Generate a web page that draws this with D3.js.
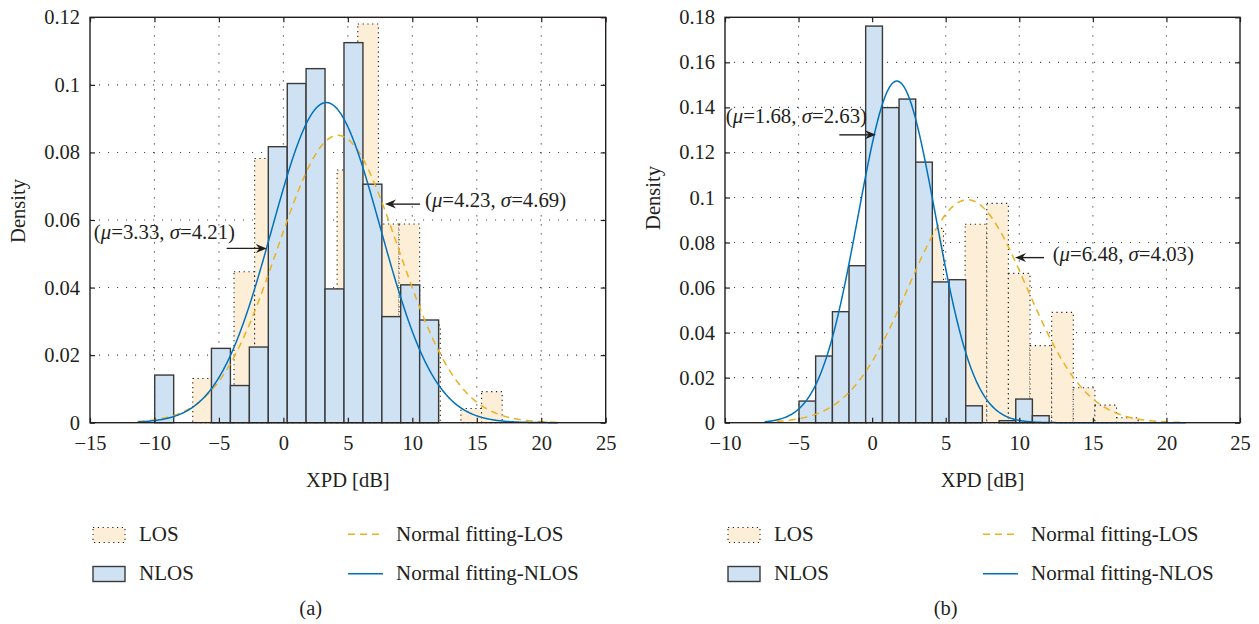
<!DOCTYPE html>
<html>
<head>
<meta charset="utf-8">
<script src="https://cdn.jsdelivr.net/npm/d3@7"></script>
<style>
  html, body { margin: 0; padding: 0; background: #ffffff; }
  svg text { font-family: "Liberation Serif", "Times New Roman", serif; fill: #231f20; }
</style>
</head>
<body>
<svg id="fig" width="1259" height="624"></svg>
<script>
// ---------- Panel (a) ----------
const xTicksA = [-15, -10, -5, 0, 5, 10, 15, 20, 25];
const yTicksA = [0, 0.02, 0.04, 0.06, 0.08, 0.1, 0.12];
const losEdgesA = [-7.03, -5.43, -3.83, -2.23, -0.63, 0.97, 2.57, 4.17, 5.77, 7.37, 8.97, 10.57, 12.17, 13.77, 15.37, 16.97];
const losDensityA = [0.0131, 0.008, 0.0447, 0.0782, 0.040, 0.053, 0.035, 0.0748, 0.118, 0.0588, 0.0588, 0.0289, 0, 0.0042, 0.0092];
const nlosEdgesA = [-9.98, -8.51, -7.04, -5.58, -4.11, -2.64, -1.17, 0.30, 1.76, 3.23, 4.70, 6.17, 7.64, 9.10, 10.57, 12.04];
const nlosDensityA = [0.0141, 0, 0, 0.0220, 0.0110, 0.0224, 0.0817, 0.1004, 0.1048, 0.0396, 0.1125, 0.0706, 0.0314, 0.0408, 0.0304];
const fitLosA = { mu: 4.23, sigma: 4.69 };
const fitNlosA = { mu: 3.33, sigma: 4.21 };
const fitSpanA = [-11.3, 21.3];

// ---------- Panel (b) ----------
const xTicksB = [-10, -5, 0, 5, 10, 15, 20, 25];
const yTicksB = [0, 0.02, 0.04, 0.06, 0.08, 0.1, 0.12, 0.14, 0.16, 0.18];
const losEdgesB = [-3.97, -2.50, -1.03, 0.44, 1.91, 3.38, 4.85, 6.32, 7.79, 9.26, 10.73, 12.20, 13.67, 15.14, 16.61, 18.08];
const losDensityB = [0.008, 0.015, 0.030, 0.050, 0.070, 0.0863, 0.050, 0.0881, 0.0974, 0.0663, 0.0342, 0.049, 0.0155, 0.0078, 0.0022];
const nlosEdgesB = [-4.97, -3.84, -2.70, -1.57, -0.44, 0.70, 1.83, 2.96, 4.09, 5.23, 6.36, 7.49, 8.63, 9.76, 10.89, 12.03];
const nlosDensityB = [0.0096, 0.0296, 0.0493, 0.0697, 0.1761, 0.1399, 0.1437, 0.1157, 0.0625, 0.0635, 0.0075, 0, 0.0009, 0.0105, 0.0031];
const fitLosB = { mu: 6.48, sigma: 4.03 };
const fitNlosB = { mu: 1.68, sigma: 2.63 };
const fitSpanB = [-7.3, 21.3];

// Callouts: arrow tip (data), arrow tail x (data), text position (data)
const notesA = [
  { fit: fitNlosA, tip: [-1.29, 0.0516], tailX: -4.40, at: [-3.75, 0.0544], anchor: "end" },
  { fit: fitLosA,  tip: [7.88, 0.0647],  tailX: 10.6,  at: [10.98, 0.0639], anchor: "start" }
];
const notesB = [
  { fit: fitNlosB, tip: [0.262, 0.1278], tailX: -2.23, at: [-9.95, 0.1331], anchor: "start" },
  { fit: fitLosB,  tip: [9.71, 0.0733],  tailX: 11.68, at: [12.27, 0.0718], anchor: "start" }
];

const legendNames = ["LOS", "NLOS", "Normal fitting-LOS", "Normal fitting-NLOS"];

const COLORS = {
  ink: "#231f20",
  losFill: "#fdeed8",
  nlosFill: "#cfe2f3",
  barEdge: "#3a3a3a",
  losFit: "#edb120",
  nlosFit: "#0072bd",
  grid: "#4a4a4a"
};

const svg = d3.select("#fig");
const TOP = 17.3, BOTTOM = 422.7;

function gauss(x, f) {
  const z = (x - f.mu) / f.sigma;
  return Math.exp(-0.5 * z * z) / (f.sigma * Math.sqrt(2 * Math.PI));
}

function panel(cfg) {
  const g = svg.append("g");
  const x = d3.scaleLinear().domain(cfg.xDomain).range([cfg.left, cfg.right]);
  const y = d3.scaleLinear().domain(cfg.yDomain).range([BOTTOM, TOP]);

  // grid
  const grid = g.append("g").attr("stroke", COLORS.grid).attr("stroke-width", 1.1)
    .attr("stroke-dasharray", "1.1,7.9");
  grid.selectAll("line.v").data(cfg.xTicks.slice(1, -1)).join("line")
    .attr("x1", d => x(d)).attr("x2", d => x(d)).attr("y1", TOP).attr("y2", BOTTOM);
  grid.selectAll("line.h").data(cfg.yTicks.slice(1, -1)).join("line")
    .attr("x1", cfg.left).attr("x2", cfg.right).attr("y1", d => y(d)).attr("y2", d => y(d));

  // histograms
  const bins = (edges, vals) => vals.map((v, i) => ({ x0: edges[i], x1: edges[i + 1], v }));
  g.append("g").selectAll("rect").data(bins(cfg.losEdges, cfg.losDensity)).join("rect")
    .attr("x", d => x(d.x0)).attr("width", d => x(d.x1) - x(d.x0))
    .attr("y", d => y(d.v)).attr("height", d => y(0) - y(d.v))
    .attr("fill", COLORS.losFill).attr("stroke", COLORS.ink).attr("stroke-width", 1.1)
    .attr("stroke-dasharray", "1.2,3.6");
  g.append("g").selectAll("rect").data(bins(cfg.nlosEdges, cfg.nlosDensity)).join("rect")
    .attr("x", d => x(d.x0)).attr("width", d => x(d.x1) - x(d.x0))
    .attr("y", d => y(d.v)).attr("height", d => y(0) - y(d.v))
    .attr("fill", COLORS.nlosFill).attr("stroke", COLORS.barEdge).attr("stroke-width", 1.4);

  // fitted normal curves
  const xs = d3.range(cfg.fitSpan[0], cfg.fitSpan[1] + 1e-9, 0.05);
  const line = f => d3.line().x(d => x(d)).y(d => y(gauss(d, f)))(xs);
  g.append("path").attr("d", line(cfg.fitLos)).attr("fill", "none")
    .attr("stroke", COLORS.losFit).attr("stroke-width", 1.5).attr("stroke-dasharray", "7,5");
  g.append("path").attr("d", line(cfg.fitNlos)).attr("fill", "none")
    .attr("stroke", COLORS.nlosFit).attr("stroke-width", 1.5);

  // axes (inward ticks on all four sides)
  const fmtY = d => d === 0 ? "0" : String(d);
  const bottom = g.append("g").attr("transform", `translate(0,${BOTTOM})`)
    .call(d3.axisBottom(x).tickValues(cfg.xTicks).tickSizeInner(-5).tickSizeOuter(0).tickPadding(13).tickFormat(d3.format("")));
  const leftAx = g.append("g").attr("transform", `translate(${cfg.left},0)`)
    .call(d3.axisLeft(y).tickValues(cfg.yTicks).tickSizeInner(-5).tickSizeOuter(0).tickPadding(10).tickFormat(fmtY));
  const topAx = g.append("g").attr("transform", `translate(0,${TOP})`)
    .call(d3.axisTop(x).tickValues(cfg.xTicks).tickSizeInner(-5).tickSizeOuter(0).tickFormat(""));
  const rightAx = g.append("g").attr("transform", `translate(${cfg.right},0)`)
    .call(d3.axisRight(y).tickValues(cfg.yTicks).tickSizeInner(-5).tickSizeOuter(0).tickFormat(""));
  [bottom, leftAx, topAx, rightAx].forEach(a => {
    a.attr("font-family", null).attr("font-size", null);
    a.select(".domain").remove();
    a.selectAll("line").attr("stroke", COLORS.ink).attr("stroke-width", 1.2);
    a.selectAll("text").attr("font-size", 20.5).style("fill", COLORS.ink);
  });
  g.append("rect").attr("x", cfg.left).attr("y", TOP)
    .attr("width", cfg.right - cfg.left).attr("height", BOTTOM - TOP)
    .attr("fill", "none").attr("stroke", COLORS.ink).attr("stroke-width", 1.4);

  // axis titles
  g.append("text").attr("x", (cfg.left + cfg.right) / 2).attr("y", 487)
    .attr("text-anchor", "middle").attr("font-size", 20.5).text("XPD [dB]");
  g.append("text").attr("transform", `translate(${cfg.left - 72.5},${cfg.ylabelY}) rotate(-90)`)
    .attr("text-anchor", "middle").attr("dominant-baseline", "central")
    .attr("font-size", 20.5).text("Density");

  // callouts
  cfg.notes.forEach(n => {
    const tx = x(n.tip[0]), ty = y(n.tip[1]), sx = x(n.tailX);
    const dir = Math.sign(tx - sx);
    g.append("line").attr("x1", sx).attr("x2", tx - dir * 6).attr("y1", ty).attr("y2", ty)
      .attr("stroke", COLORS.ink).attr("stroke-width", 1.4);
    const L = 11, W = 4.5, N = 7.5;
    g.append("path")
      .attr("d", `M${tx},${ty} L${tx - dir * L},${ty - W} L${tx - dir * N},${ty} L${tx - dir * L},${ty + W} Z`)
      .attr("fill", COLORS.ink);
    const t = g.append("text").attr("x", x(n.at[0])).attr("y", y(n.at[1]))
      .attr("text-anchor", n.anchor).attr("font-size", 20.8);
    t.append("tspan").text("(");
    t.append("tspan").attr("font-style", "italic").text("\u03bc");
    t.append("tspan").text("=" + n.fit.mu.toFixed(2) + ", ");
    t.append("tspan").attr("font-style", "italic").text("\u03c3");
    t.append("tspan").text("=" + n.fit.sigma.toFixed(2) + ")");
  });

  // legend
  const lx = cfg.left;
  const lg = g.append("g");
  lg.append("rect").attr("x", lx + 3).attr("y", 527.5).attr("width", 32).attr("height", 15)
    .attr("fill", COLORS.losFill).attr("stroke", COLORS.ink).attr("stroke-width", 1.1)
    .attr("stroke-dasharray", "1.2,3.6");
  lg.append("rect").attr("x", lx + 3).attr("y", 566.5).attr("width", 32).attr("height", 15)
    .attr("fill", COLORS.nlosFill).attr("stroke", COLORS.barEdge).attr("stroke-width", 1.4);
  lg.append("line").attr("x1", lx + 258).attr("x2", lx + 293).attr("y1", 534.3).attr("y2", 534.3)
    .attr("stroke", COLORS.losFit).attr("stroke-width", 1.5).attr("stroke-dasharray", "7,5");
  lg.append("line").attr("x1", lx + 258).attr("x2", lx + 293).attr("y1", 573.7).attr("y2", 573.7)
    .attr("stroke", COLORS.nlosFit).attr("stroke-width", 1.5);
  lg.append("text").attr("x", lx + 49).attr("y", 540.5).attr("font-size", 21).text(legendNames[0]);
  lg.append("text").attr("x", lx + 49).attr("y", 579.5).attr("font-size", 21).text(legendNames[1]);
  lg.append("text").attr("x", lx + 306).attr("y", 540.5).attr("font-size", 21).text(legendNames[2]);
  lg.append("text").attr("x", lx + 306).attr("y", 579.5).attr("font-size", 21).text(legendNames[3]);

  g.append("text").attr("x", lx + 220.7).attr("y", 615).attr("text-anchor", "middle")
    .attr("font-size", 20.5).text(cfg.caption);
}

panel({
  left: 90, right: 605.7, xDomain: [-15, 25], yDomain: [0, 0.12],
  xTicks: xTicksA, yTicks: yTicksA,
  losEdges: losEdgesA, losDensity: losDensityA,
  nlosEdges: nlosEdgesA, nlosDensity: nlosDensityA,
  fitLos: fitLosA, fitNlos: fitNlosA, fitSpan: fitSpanA,
  notes: notesA, ylabelY: 211, caption: "(a)"
});
panel({
  left: 725, right: 1240, xDomain: [-10, 25], yDomain: [0, 0.18],
  xTicks: xTicksB, yTicks: yTicksB,
  losEdges: losEdgesB, losDensity: losDensityB,
  nlosEdges: nlosEdgesB, nlosDensity: nlosDensityB,
  fitLos: fitLosB, fitNlos: fitNlosB, fitSpan: fitSpanB,
  notes: notesB, ylabelY: 198, caption: "(b)"
});
</script>
</body>
</html>
